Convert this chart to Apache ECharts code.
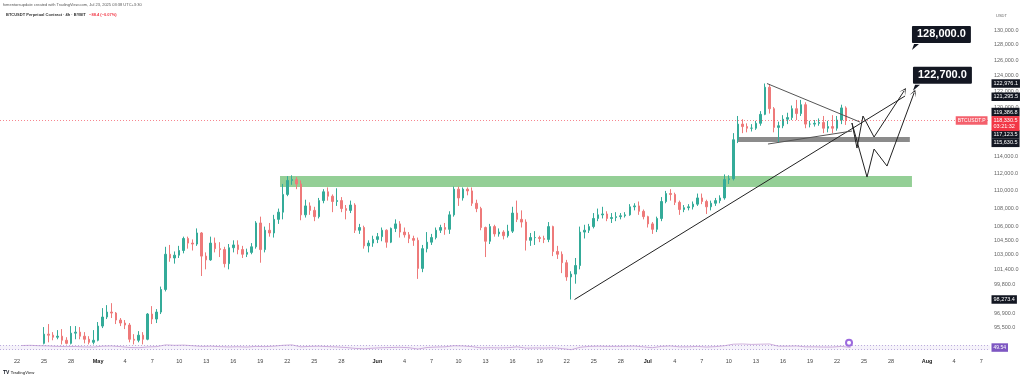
<!DOCTYPE html>
<html><head><meta charset="utf-8">
<script src="https://cdn.jsdelivr.net/npm/echarts@6/dist/echarts.min.js"></script>
<style>html,body{margin:0;padding:0;background:#fff}#c{width:1024px;height:379px}</style>
</head><body><div id="c"></div>
<script>
// ---- data (12h candles, BTCUSDT.P) ----
const candleStart = '2025-04-25T00:00:00Z';
const candleStepHours = 12;
// [open, close, low, high]
const ohlc = [
[93900,94800,93800,95500],[94800,94700,94000,95800],
[94700,94500,94200,95000],[94500,94600,94300,95200],
[94600,94200,93800,95300],[94200,93900,93800,94500],
[93900,94900,93800,95600],[94900,95000,94300,95600],
[95000,94600,94300,95500],[94600,94300,93900,95000],
[94300,94000,93800,94600],[94000,94200,93800,95200],
[94200,95600,94100,96000],[95600,96500,95400,97400],
[96500,97000,96300,97700],[97000,96900,96400,97900],
[96900,96200,95800,97000],[96200,95900,95600,96400],
[95900,95700,95300,96200],[95700,94300,94000,95900],
[94300,94200,93800,94800],[94200,94700,94000,95100],
[94700,94300,93800,95000],[94300,96800,94200,96900],
[96800,96300,95800,97600],[96300,97000,95900,97300],
[97000,99300,96800,99600],[99300,103000,99100,103800],
[103000,102600,102200,104000],[102600,102900,102000,103300],
[102900,103400,102600,103900],[103400,104700,103100,104900],
[104700,104200,103600,104900],[104200,104100,103400,104600],
[104100,105300,103900,105800],[105300,102800,100700,105400],
[102800,102400,101400,103200],[102400,104200,102300,104900],
[104200,103600,103200,104800],[103600,103500,102700,104300],
[103500,102000,101600,103800],[102000,103700,101400,104100],
[103700,104000,103200,104500],[104000,103500,103000,104500],
[103500,103000,102600,103900],[103000,103200,102700,103600],
[103200,103800,103000,104200],[103800,106400,103600,106600],
[106400,103500,102100,107100],[103500,105600,103200,106000],
[105600,105300,104900,106400],[105300,106800,104800,107300],
[106800,107600,106300,108000],[107600,109600,106800,110800],
[109600,111200,109400,111700],[111200,111300,110700,111800],
[111300,110800,110200,111600],[110800,107300,106700,111200],
[107300,108300,107000,109000],[108300,107800,107300,108700],
[107800,107100,106600,108200],[107100,108900,106900,109200],
[108900,109900,108600,110200],[109900,109400,108900,110400],
[109400,108800,107600,109600],[108800,108900,108300,110300],
[108900,108000,107600,109300],[108000,107800,106800,108400],
[107800,108400,107500,108900],[108400,105600,105300,108600],
[105600,105900,105200,106300],[105900,103900,103600,106100],
[103900,104200,103200,104500],[104200,104600,103800,105000],
[104600,104900,104200,105300],[104900,105600,104400,105900],
[105600,104300,103700,105700],[104300,105800,104200,105900],
[105800,106300,105400,106800],[106300,105400,104800,106600],
[105400,105100,104800,105900],[105100,104700,104200,105400],
[104700,104500,103900,105000],[104500,101500,100400,104800],
[101500,103600,101100,104000],[103600,104300,103200,105400],
[104300,104800,104000,105200],[104800,105600,104600,105900],
[105600,105900,105300,106200],[105900,105700,105100,106400],
[105700,107300,105200,107700],[107300,110200,107100,110500],
[110200,109200,108300,110500],[109200,110200,108900,110400],
[110200,110000,109500,110400],[110000,108600,108300,110400],
[108600,108000,107600,109000],[108000,105900,105600,108200],
[105900,104400,102700,106000],[104400,106000,104100,106300],
[106000,105200,104900,106200],[105200,105400,104900,105800],
[105400,105000,104600,105600],[105000,105500,104800,106200],
[105500,107500,105300,108200],[107500,106800,106500,108900],
[106800,106500,105900,107800],[106500,104500,103400,106800],
[104500,104800,103900,105300],[104800,104800,104000,105500],
[104800,104700,104300,105000],[104700,104600,104200,105000],
[104600,106000,104300,106500],[106000,103300,102800,106100],
[103300,103000,102500,103900],[103000,102100,101000,103300],
[102100,100600,100200,102400],[100600,100900,98273,101200],
[100900,101800,99900,102600],[101800,105400,101400,106000],
[105400,105600,104700,106200],[105600,106000,105300,106300],
[106000,106900,105800,107500],[106900,107300,106600,108000],
[107300,107400,106900,108200],[107400,106900,106600,107700],
[106900,107000,106400,107500],[107000,107100,106600,107600],
[107100,107200,106800,107500],[107200,107300,107000,107600],
[107300,108200,107200,108500],[108200,108300,107800,108600],
[108300,107700,107300,108800],[107700,107100,106800,107900],
[107100,106300,105900,107200],[106300,105700,105200,106500],
[105700,106900,105400,107100],[106900,108800,106600,109300],
[108800,109700,108600,110000],[109700,109600,108900,110200],
[109600,108700,108400,109800],[108700,107900,107300,108900],
[107900,108100,107600,108400],[108100,108200,107800,108500],
[108200,108500,107900,108800],[108500,109200,108300,109700],
[109200,108800,108500,109700],[108800,108200,107400,109000],
[108200,108600,107800,108900],[108600,108900,108300,109200],
[108900,109200,108600,109500],[109200,111300,109000,111900],
[111300,111400,110800,111800],[111400,116000,111200,116800],
[116000,117900,115600,118900],[117900,117600,116800,118500],
[117600,117400,116900,118000],[117400,117400,117000,117900],
[117400,118000,117200,118300],[118000,119100,117700,119500],
[119100,122500,119000,122976],[122500,119800,119200,122900],
[119800,117500,116900,120000],[117500,117700,115700,118200],
[117700,118500,117400,119000],[118500,118700,117900,119300],
[118700,119800,118400,120200],[119800,119200,118400,120900],
[119200,120300,118900,120900],[120300,117900,117400,120600],
[117900,117900,117500,118300],[117900,118000,117600,118400],
[118000,118100,117700,118600],[118100,117400,116800,118900],
[117400,117600,116900,118300],[117600,117400,116800,119000],
[117400,118400,117100,118900],[118400,119900,117900,120300],
[119900,118330.5,117800,120100]
];
// daily RSI (Apr 22 .. Jul 23), read at each day's middle
const rsiStart = '2025-04-22T12:00:00Z';
const rsi = [68,70,66,64,60,58,59,55,54,
 62,64,58,50,48,55,58,74,70,72,
 66,60,62,58,55,57,54,60,58,62,
 70,74,56,60,62,58,55,50,42,38,44,
 48,50,52,48,36,50,54,56,66,64,
 58,46,48,46,48,56,44,46,45,48,
 40,30,52,60,62,60,60,61,63,56,
 48,60,64,56,56,60,54,58,66,80,
 82,78,80,82,62,62,64,56,56,54,
 54,60,50];
const priceTicks = [130000,128000,126000,124000,122000,120000,114000,112000,110000,108000,106000,104500,103000,101400,99800,96900,95500];
const dateTicks = ['2025-04-22','2025-04-25','2025-04-28','2025-05-01','2025-05-04','2025-05-07','2025-05-10','2025-05-13','2025-05-16','2025-05-19','2025-05-22','2025-05-25','2025-05-28','2025-06-01','2025-06-04','2025-06-07','2025-06-10','2025-06-13','2025-06-16','2025-06-19','2025-06-22','2025-06-25','2025-06-28','2025-07-01','2025-07-04','2025-07-07','2025-07-10','2025-07-13','2025-07-16','2025-07-19','2025-07-22','2025-07-25','2025-07-28','2025-08-01','2025-08-04','2025-08-07'];
const dateTickLabels = ['22','25','28','May','4','7','10','13','16','19','22','25','28','Jun','4','7','10','13','16','19','22','25','28','Jul','4','7','10','13','16','19','22','25','28','Aug','4','7'];
// price-scale tags
const axisTagValues = [122976.1, 121295.5, 119386.8, 117123.5, 115630.5, 98273.4];
const lastPrice = 118330.5;
const lastCountdown = '03:21:32';
const rsiLast = 49.54;
// drawings
const greenZone = [['2025-05-21T04:30:00Z', 111713], ['2025-07-30T07:40:00Z', 110443]];
const grayZone = [['2025-07-10T21:40:00Z', 116330], ['2025-07-30T02:00:00Z', 115727]];
const trendLine = [['2025-06-22T21:00:00Z', 98273], ['2025-07-29T13:10:00Z', 121389]];
const triangleTop = [['2025-07-14T05:30:00Z', 122976], ['2025-07-24T13:10:00Z', 118154]];
const triangleBottom = [['2025-07-14T08:10:00Z', 115487], ['2025-07-23T15:50:00Z', 117057]];
const pathA = [['2025-07-23T15:50:00Z',118032],['2025-07-24T05:15:00Z',115008],['2025-07-24T21:10:00Z',118894],['2025-07-26T02:40:00Z',116330],['2025-07-29T10:30:00Z',122022]];
const pathB = [['2025-07-23T15:50:00Z',118032],['2025-07-25T07:55:00Z',111596],['2025-07-26T02:40:00Z',114889],['2025-07-27T13:10:00Z',112878],['2025-07-30T13:10:00Z',121769]];
const callouts = [['128,000.0','2025-07-30T07:40:00Z',128000],['122,700.0','2025-07-30T10:20:00Z',122700]];
const eventMark = ['2025-07-23T08:00:00Z', 93];

// ---- build ----
const T = s => Date.parse(s);
const xMin = T('2025-04-20T02:42:00Z'), xMax = T('2025-08-07T23:30:00Z');
const yMin = 93739, yMax = 132729;
const t0 = T(candleStart);
const candleData = ohlc.map((v, i) => [t0 + i * candleStepHours * 3600e3, v[0], v[1], v[2], v[3]]);
const r0 = T(rsiStart);
const rsiData = rsi.map((v, i) => [r0 + i * 86400e3, v]);
const dateTickTimes = dateTicks.map(d => T(d + 'T00:00:00Z'));
const dateLabelMap = {};
dateTickTimes.forEach((t, i) => dateLabelMap[t] = dateTickLabels[i]);
const fmtPrice = v => (Math.round(v * 10) / 10).toLocaleString('en-US', {minimumFractionDigits: 1, maximumFractionDigits: 1});
const P = p => [T(p[0]), p[1]];
const FONT = 'Liberation Sans';
const UP = '#34ab99', DOWN = '#ee7a7a';
const ARROW = 'path://M0,10 L5,0 L10,10 L5,3 Z';

function seg(path, arrow) {
  const out = [];
  for (let i = 0; i < path.length - 1; i++) {
    const last = arrow && i === path.length - 2;
    out.push([{coord: P(path[i]), symbol: 'none'}, {coord: P(path[i + 1]), symbol: last ? ARROW : 'none', symbolSize: 7}]);
  }
  return out;
}

const tagLabel = (text, bg, extra) => Object.assign({show: true, position: 'right', distance: 1, formatter: text,
  backgroundColor: bg, color: '#fff', fontSize: 5.5, fontFamily: FONT, padding: [1, 2], lineHeight: 6.5}, extra || {});

const chart = echarts.init(document.getElementById('c'), null, {renderer: 'canvas'});
chart.setOption({
  animation: false,
  backgroundColor: '#ffffff',
  title: [
    {left: 3, top: 2, text: 'fxmentorsupdate created with TradingView.com, Jul 23, 2025 03:38 UTC+3:30', padding: 0,
      textStyle: {fontSize: 4, lineHeight: 5, color: '#555', fontWeight: 'normal', fontFamily: FONT}},
    {left: 6, top: 12, padding: 0, text: '{a|BTCUSDT Perpetual Contract · 4h · BYBIT}   {r|−88.4 (−0.07%)}',
      textStyle: {fontSize: 4, lineHeight: 5, rich: {a: {fontSize: 4, lineHeight: 5, color: '#333', fontFamily: FONT}, r: {fontSize: 4, lineHeight: 5, color: '#f23645', fontFamily: FONT}}}},
    {left: 996, top: 13, padding: 0, text: 'USDT', textStyle: {fontSize: 4, lineHeight: 5, color: '#666', fontWeight: 'normal', fontFamily: FONT}},
    {left: 3, top: 370, padding: 0, text: '{l|TV} {t|TradingView}',
      textStyle: {fontSize: 5, lineHeight: 6, rich: {l: {fontSize: 5, lineHeight: 6, fontWeight: 'bold', color: '#131722', fontFamily: FONT}, t: {fontSize: 4, lineHeight: 6, color: '#555', fontFamily: FONT}}}}
  ],
  grid: [
    {left: 0, right: 34, top: 10, height: 335},
    {left: 0, right: 34, top: 342, height: 11}
  ],
  xAxis: [
    {type: 'value', gridIndex: 0, min: xMin, max: xMax, axisLabel: {show: false}, axisLine: {show: false}, axisTick: {show: false}, splitLine: {show: false}},
    {type: 'value', gridIndex: 1, min: xMin, max: xMax, axisLine: {show: false}, axisTick: {show: false}, splitLine: {show: false},
      axisLabel: {customValues: dateTickTimes, margin: 5, fontSize: 5.5, color: '#444', fontFamily: FONT,
        formatter: v => { const s = dateLabelMap[v] || ''; return /^\d+$/.test(s) ? s : '{m|' + s + '}'; },
        rich: {m: {fontSize: 5.5, fontWeight: 'bold', color: '#222', fontFamily: FONT}}}}
  ],
  yAxis: [
    {type: 'log', logBase: 10, gridIndex: 0, position: 'right', min: yMin, max: yMax,
      axisLine: {show: false}, axisTick: {show: false}, splitLine: {show: false},
      axisLabel: {customValues: priceTicks, margin: 4, fontSize: 5.5, color: '#666', fontFamily: FONT, formatter: fmtPrice}},
    {type: 'value', gridIndex: 1, min: 0, max: 100, show: false}
  ],
  series: [
    {
      type: 'candlestick', xAxisIndex: 0, yAxisIndex: 0, data: candleData, barWidth: 2, clip: true,
      itemStyle: {color: UP, color0: DOWN, borderColor: UP, borderColor0: DOWN, borderWidth: 1},
      markLine: {silent: true, symbol: ['none', 'none'], label: {show: false},
        lineStyle: {color: '#f23645', type: [1, 2], width: 1, opacity: 0.6},
        data: [{yAxis: lastPrice}]},
      markPoint: {silent: true, symbol: 'rect', symbolSize: 1, itemStyle: {color: 'rgba(0,0,0,0)'},
        data: axisTagValues.map(v => ({coord: [xMax, v],
          label: tagLabel(fmtPrice(v), '#131722', v === 117123.5 ? {offset: [0, 4]} : {})}))
          .concat([
            {coord: [xMax, lastPrice], label: tagLabel(fmtPrice(lastPrice) + '\n' + lastCountdown, '#f23645', {offset: [0, 3]})},
            {coord: [xMax, lastPrice], label: tagLabel('BTCUSDT.P', '#f4606c', {position: 'left', distance: 2, fontSize: 5})}
          ])}
    },
    {
      type: 'line', xAxisIndex: 0, yAxisIndex: 0, data: [], silent: true,
      markArea: {silent: true, data: [
        [{coord: P(greenZone[0]), itemStyle: {color: 'rgba(76,175,80,0.6)'}}, {coord: P(greenZone[1])}],
        [{coord: P(grayZone[0]), itemStyle: {color: 'rgba(90,90,90,0.7)'}}, {coord: P(grayZone[1])}]
      ]},
      markLine: {silent: true, symbol: ['none', 'none'], symbolSize: 7, label: {show: false},
        lineStyle: {color: '#222', width: 1, type: 'solid'}, emphasis: {disabled: true},
        data: [
          [{coord: P(trendLine[0])}, {coord: P(trendLine[1])}],
          [{coord: P(triangleTop[0]), lineStyle: {color: '#555'}}, {coord: P(triangleTop[1])}],
          [{coord: P(triangleBottom[0]), lineStyle: {color: '#555'}}, {coord: P(triangleBottom[1])}]
        ].concat(seg(pathA, true), seg(pathB, true))},
      markPoint: {silent: true,
        symbol: 'path://M0,10 L3,0 L10,0 Z', symbolSize: [7, 6], symbolOffset: [3.5, 2],
        itemStyle: {color: '#131722'},
        data: callouts.map(c => ({coord: [T(c[1]), c[2]],
          label: {show: true, formatter: c[0], position: [0, -18], color: '#fff', backgroundColor: '#131722',
            fontSize: 11, fontWeight: 'bold', fontFamily: FONT, padding: [3, 5], borderRadius: 1}}))}
    },
    {
      type: 'line', xAxisIndex: 1, yAxisIndex: 1, data: rsiData, showSymbol: false, silent: true,
      lineStyle: {color: '#c39bd3', width: 0.8},
      markArea: {silent: true, itemStyle: {color: 'rgba(126,87,194,0.08)'}, data: [[{yAxis: 30}, {yAxis: 70}]]},
      markLine: {silent: true, symbol: ['none', 'none'], label: {show: false},
        lineStyle: {color: '#a18ccf', type: [1, 2], width: 0.7}, data: [{yAxis: 70}, {yAxis: 30}]},
      markPoint: {silent: true, data: [
        {coord: [xMax, rsiLast], symbol: 'rect', symbolSize: 1, itemStyle: {color: 'rgba(0,0,0,0)'},
          label: tagLabel(rsiLast.toFixed(2), '#7e57c2', {fontSize: 5})},
        {coord: [T(eventMark[0]), eventMark[1]], symbol: 'emptyCircle', symbolSize: 6,
          itemStyle: {color: '#9c6ade', borderColor: '#9c6ade', borderWidth: 1}, label: {show: false}}
      ]}
    }
  ]
});
</script></body></html>
